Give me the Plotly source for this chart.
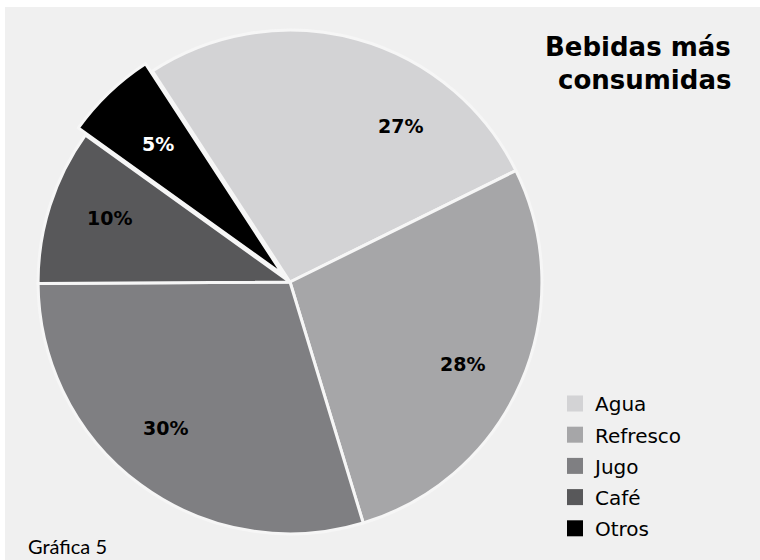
import math
import plotly.graph_objects as go

labels = ["Agua", "Refresco", "Jugo", "Café", "Otros"]
values = [26.9, 27.6, 29.6, 10.0, 5.9]
pct_text = ["27%", "28%", "30%", "10%", "5%"]

# style
colors = ["#d3d3d5", "#a6a6a8", "#7f7f82", "#58585a", "#000000"]
text_colors = ["#000000", "#000000", "#000000", "#000000", "#ffffff"]
pulls = [0, 0, 0, 0, 0.04]
label_nudge_deg = [20, 2, 4, 2, 0]
label_rfrac = 0.76
rotation = -33.1

W, H = 755, 553
cx, cy, half = 285, 275, 262  # pie domain centre/half-size in px (from top-left)
dom_x = [(cx - half) / W, (cx + half) / W]
dom_y = [(H - cy - half) / H, (H - cy + half) / H]

fig = go.Figure(go.Pie(
    labels=labels, values=values,
    textinfo="none",
    sort=False, direction="clockwise", rotation=rotation,
    pull=pulls,
    marker=dict(colors=colors, line=dict(color="#f6f6f6", width=3)),
    domain=dict(x=dom_x, y=dom_y),
    hoverinfo="label+percent",
    showlegend=False,
))

# legend entries with larger square swatches
for lab, col in zip(labels, colors):
    fig.add_trace(go.Scatter(
        x=[None], y=[None], mode="markers", name=lab, legendgroup=lab,
        marker=dict(symbol="square", size=16, color=col, line=dict(width=0)),
        hoverinfo="skip", showlegend=True))

# percentage labels placed along each slice's bisector (derived from the values)
R = half / (1 + max(pulls))
total = sum(values)
cum = 0.0
annotations = []
for v, t, tc, nudge in zip(values, pct_text, text_colors, label_nudge_deg):
    mid = rotation + 360.0 * (cum + v / 2.0) / total
    cum += v
    th = math.radians(mid + nudge)
    r = label_rfrac * R
    px = cx + r * math.sin(th)
    py = cy - r * math.cos(th)
    annotations.append(dict(
        text="<b>" + t + "</b>", x=px / W, y=1 - py / H, xref="paper", yref="paper",
        xanchor="center", yanchor="middle", showarrow=False,
        font=dict(family="DejaVu Sans", size=19, color=tc)))

annotations += [
    dict(text="<b>Bebidas más</b>", x=728 / W, y=1 - 40 / H,
         xref="paper", yref="paper", xanchor="right", yanchor="middle",
         showarrow=False, font=dict(family="DejaVu Sans", size=26, color="#000000")),
    dict(text="<b>consumidas</b>", x=728 / W, y=1 - 73 / H,
         xref="paper", yref="paper", xanchor="right", yanchor="middle",
         showarrow=False, font=dict(family="DejaVu Sans", size=26, color="#000000")),
    dict(text="Gráfica 5", x=21 / W, y=1 - 539 / H, xref="paper", yref="paper",
         xanchor="left", yanchor="middle", showarrow=False,
         font=dict(family="Lato", size=20, color="#000000")),
]

fig.update_layout(
    width=W, height=H,
    margin=dict(l=0, r=0, t=0, b=0),
    paper_bgcolor="#f0f0f0",
    plot_bgcolor="rgba(0,0,0,0)",
    xaxis=dict(visible=False, domain=[0.9, 1]),
    yaxis=dict(visible=False, domain=[0.9, 1]),
    showlegend=True,
    legend=dict(x=550 / W, y=1 - 377 / H, xanchor="left", yanchor="top",
                font=dict(family="DejaVu Sans", size=20, color="#000000"),
                bgcolor="rgba(0,0,0,0)", traceorder="grouped", tracegroupgap=2.2),
    annotations=annotations,
)

fig.write_html("out.html", post_script="document.body.style.margin='7px 0 0 5px';")
